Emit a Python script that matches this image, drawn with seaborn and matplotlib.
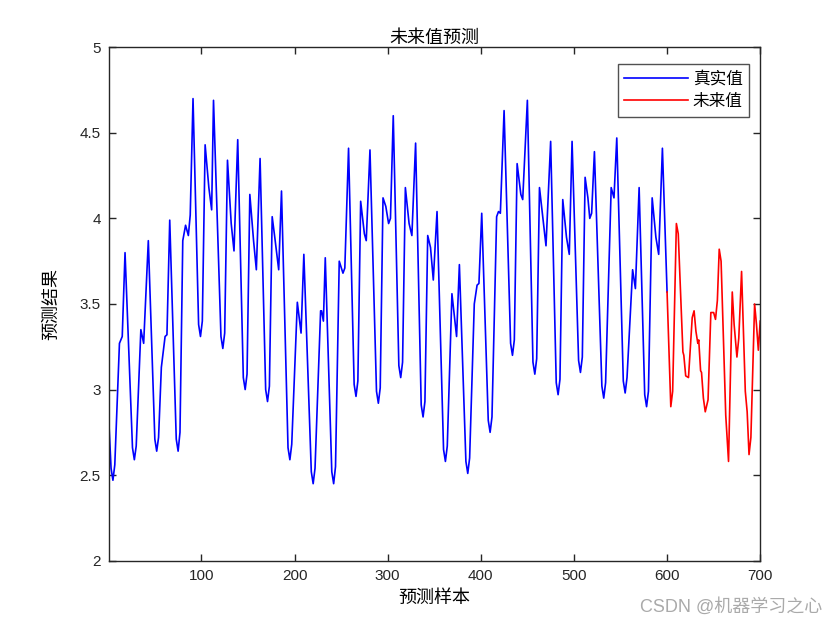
import numpy as np
import pandas as pd
import matplotlib
matplotlib.use("Agg")
import matplotlib.pyplot as plt
import seaborn as sns

real_x = [1, 3, 5, 7, 12, 15, 18, 26, 28, 30, 35, 38, 43, 50, 52, 54, 57, 61, 63, 66,
          73, 75, 77, 80, 83, 86, 88, 91, 97, 99, 101, 104, 108, 111, 113, 121, 123, 125,
          128, 132, 135, 139, 145, 147, 149, 152, 156, 159, 163, 169, 171, 173, 176, 179,
          183, 186, 193, 195, 197, 203, 207, 210, 218, 220, 222, 228, 229, 231, 233, 240,
          242, 244, 248, 252, 254, 258, 264, 266, 268, 271, 275, 277, 281, 288, 290, 292,
          295, 298, 301, 303, 306, 312, 314, 316, 319, 323, 326, 330, 336, 338, 340, 343,
          346, 349, 353, 360, 362, 364, 369, 374, 377, 384, 386, 388, 393, 396, 398, 401,
          408, 410, 412, 417, 419, 421, 425, 432, 434, 436, 439, 443, 445, 450, 456, 458,
          460, 463, 470, 475, 481, 483, 485, 488, 492, 495, 498, 505, 507, 509, 512, 515,
          517, 519, 522, 530, 532, 534, 540, 543, 546, 553, 555, 557, 563, 566, 570, 576,
          578, 580, 584, 588, 591, 595, 600]
real_y = [2.77, 2.54, 2.47, 2.56, 3.27, 3.31, 3.80, 2.66, 2.59, 2.67, 3.35, 3.27, 3.87,
          2.71, 2.64, 2.72, 3.13, 3.31, 3.32, 3.99, 2.71, 2.64, 2.75, 3.87, 3.96, 3.90,
          4.02, 4.70, 3.38, 3.31, 3.40, 4.43, 4.18, 4.05, 4.69, 3.31, 3.24, 3.33, 4.34,
          3.97, 3.81, 4.46, 3.07, 3.00, 3.09, 4.14, 3.87, 3.70, 4.35, 3.00, 2.93, 3.02,
          4.01, 3.88, 3.70, 4.16, 2.66, 2.59, 2.68, 3.51, 3.33, 3.79, 2.52, 2.45, 2.54,
          3.46, 3.46, 3.40, 3.77, 2.52, 2.45, 2.55, 3.75, 3.68, 3.71, 4.41, 3.03, 2.96,
          3.05, 4.10, 3.91, 3.87, 4.40, 2.99, 2.92, 3.01, 4.12, 4.07, 3.97, 4.00, 4.60,
          3.14, 3.07, 3.16, 4.18, 3.97, 3.90, 4.44, 2.91, 2.84, 2.93, 3.90, 3.83, 3.64,
          4.04, 2.65, 2.58, 2.67, 3.56, 3.31, 3.73, 2.58, 2.51, 2.60, 3.50, 3.61, 3.62,
          4.03, 2.82, 2.75, 2.84, 4.01, 4.04, 4.03, 4.63, 3.27, 3.20, 3.29, 4.32, 4.14,
          4.11, 4.69, 3.16, 3.09, 3.18, 4.18, 3.84, 4.45, 3.04, 2.97, 3.06, 4.11, 3.89,
          3.79, 4.45, 3.17, 3.10, 3.19, 4.24, 4.12, 4.00, 4.03, 4.39, 3.02, 2.95, 3.04,
          4.18, 4.12, 4.47, 3.05, 2.98, 3.07, 3.70, 3.59, 4.18, 2.97, 2.90, 2.99, 4.12,
          3.89, 3.79, 4.41, 3.57]

# future (forecast) values
future_x = [600, 604, 606, 610, 612, 617, 618, 620, 623, 627, 629, 631, 633, 634, 636, 637,
            639, 641, 644, 647, 650, 652, 654, 656, 658, 663, 666, 670, 672, 675, 677, 680,
            684, 686, 688, 690, 694, 696, 698, 700]
future_y = [3.57, 2.90, 2.99, 3.97, 3.91, 3.22, 3.20, 3.08, 3.07, 3.42, 3.46, 3.34, 3.27,
            3.29, 3.11, 3.10, 2.95, 2.87, 2.94, 3.45, 3.45, 3.41, 3.52, 3.82, 3.75, 2.85,
            2.58, 3.57, 3.38, 3.19, 3.30, 3.69, 2.99, 2.87, 2.62, 2.72, 3.50, 3.38, 3.23,
            3.40]

xticks = [100, 200, 300, 400, 500, 600, 700]
yticks = [2, 2.5, 3, 3.5, 4, 4.5, 5]
ytick_labels = ["2", "2.5", "3", "3.5", "4", "4.5", "5"]

cjk = ["Noto Sans CJK SC", "DejaVu Sans"]
plt.rcParams["font.family"] = ["Liberation Sans", "DejaVu Sans"]

fig = plt.figure(figsize=(8.4, 6.3), dpi=100)
ax = fig.add_axes([0.13, 0.11, 0.775, 0.815])

sns.lineplot(x=real_x, y=real_y, color="blue", linewidth=1.2, label="真实值", ax=ax)
sns.lineplot(x=future_x, y=future_y, color="red", linewidth=1.2, label="未来值", ax=ax)

ax.set_xlim(1, 700)
ax.set_ylim(2, 5)
ax.set_xticks(xticks)
ax.set_yticks(yticks)
ax.set_yticklabels(ytick_labels)
ax.tick_params(direction="in", length=5, width=1, top=True, right=True,
               labelsize=11, colors="#262626", pad=6)
for s in ax.spines.values():
    s.set_color("#262626")
    s.set_linewidth(1)

ax.set_title("未来值预测", family=cjk, fontsize=13, pad=3)
ax.set_xlabel("预测样本", family=cjk, fontsize=13, labelpad=4)
ax.set_ylabel("预测结果", family=cjk, fontsize=13, labelpad=14)

leg = ax.legend(loc="upper right", bbox_to_anchor=(0.983, 0.967), prop={"family": cjk, "size": 12},
                frameon=True, fancybox=False, edgecolor="#262626", handlelength=3.8,
                borderpad=0.4, labelspacing=0.3, handletextpad=0.3, borderaxespad=0)
leg.get_frame().set_linewidth(1)

fig.text(0.979, 0.036, "CSDN @机器学习之心", family=["Liberation Sans", "Noto Sans CJK SC"],
         fontsize=13, color="#aaaaaa", ha="right", va="center")

fig.savefig("out.png", dpi=100, facecolor="white")
